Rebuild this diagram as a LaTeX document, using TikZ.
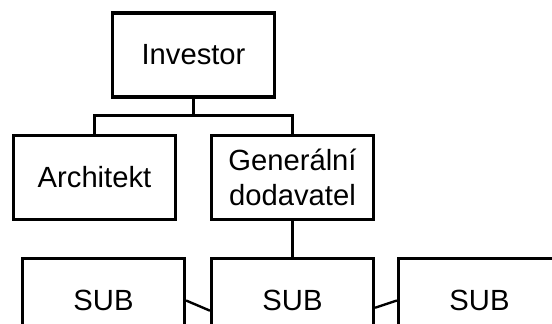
\documentclass[tikz,border=0pt]{standalone}
\usepackage{fontspec}
\setmainfont{Liberation Sans}
\usetikzlibrary{positioning}

\tikzset{
    orgbox/.style = {
        draw,
        line width = 1.6pt,
        minimum width = 81pt,
        minimum height = 42pt,
        inner sep = 0pt,
        align = center,
        font = \fontsize{14.6pt}{17.5pt}\selectfont,
    },
    link/.style = {
        line width = 1.2pt,
    },
}

\begin{document}
\begin{tikzpicture}[%
        x = 0.5pt,
        y = -0.5pt,
    ]

        % Frame of the picture, the lowest row is cut off.
        \useasboundingbox (0, 0) rectangle (552, 323);
        \clip (0, 0) rectangle (552, 323);

        % Top of the tree.
        \node[orgbox] (inv) at (193.5, 55) {Investor};

        % Second row.
        \node[orgbox] (arch) at (94.5, 177.5) {Architekt};
        \node[orgbox] (gen) at (292.5, 177.5) {Generální\\dodavatel};

        % Subcontractors.
        \node[orgbox] (sub1) at (103.5, 300.5) {SUB};
        \node[orgbox] (sub2) at (292.5, 300.5) {SUB};
        \node[orgbox] (sub3) at (479.5, 300.5) {SUB};

        % Branch point below the investor.
        \coordinate (split) at (193.5, 115.5);

        % Tree connectors.
        \draw[link] (inv.south) to (split);
        \draw[link] (split) -| (arch.north);
        \draw[link] (split) -| (gen.north);
        \draw[link] (gen.south) to (sub2.north);

        % Links between the subcontractors.
        \draw[link] (sub1.east) to (sub2.187);
        \draw[link] (sub2.-5) to (sub3.west);
    \end{tikzpicture}
\end{document}
